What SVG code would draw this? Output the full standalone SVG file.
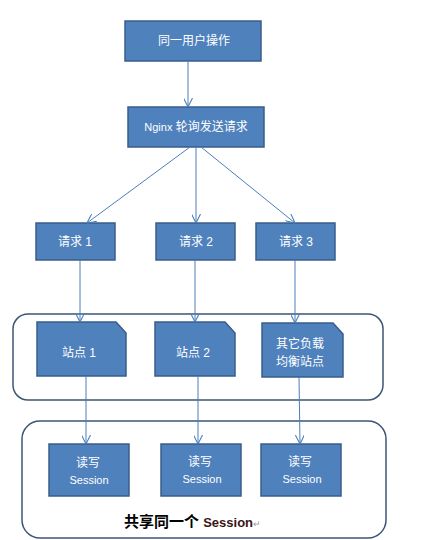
<svg xmlns="http://www.w3.org/2000/svg" width="436" height="540" viewBox="0 0 436 540">
<defs>
<marker id="arr" viewBox="0 0 10 10" refX="10" refY="5" markerWidth="9" markerHeight="9" markerUnits="userSpaceOnUse" orient="auto">
<path d="M0,0 L10,5 L0,10" fill="none" stroke="#4A7EBB" stroke-width="1.2"/>
</marker>
<style>
.box{fill:#4F81BD;stroke:#385D8A;stroke-width:1.5}
.frame{fill:#FFFFFF;stroke:#3C5675;stroke-width:1.5}
.t{fill:#FFFFFF;font-family:"Liberation Sans","Noto Sans CJK SC",sans-serif;font-size:12px;text-anchor:middle}
.s{font-size:11px}
.c{fill:none;stroke:#4A7EBB;stroke-width:1;marker-end:url(#arr)}
</style>
</defs>
<rect width="436" height="540" fill="#FFFFFF"/>
<g id="frame-sites"><rect class="frame" x="13" y="314" width="370" height="86" rx="15" ry="15"/></g>
<g id="frame-session"><rect class="frame" x="22" y="421" width="364" height="117" rx="18" ry="18"/>
<text x="124" y="527" font-family="Liberation Sans,'Noto Sans CJK SC',sans-serif" font-size="15" font-weight="bold" fill="#000000">共享同一个 <tspan fill="#3A1515" font-size="13">Session</tspan><tspan fill="#999999" font-size="9" font-weight="normal">↵</tspan></text></g>
<g id="user"><rect class="box" x="125" y="21" width="136" height="40"/><text class="t" x="194" y="45">同一用户操作</text></g>
<g id="nginx"><rect class="box" x="128" y="107" width="136" height="40"/><text class="t" x="196" y="131"><tspan class="s">Nginx</tspan> 轮询发送请求</text></g>
<g id="req1"><rect class="box" x="36" y="223" width="79" height="37"/><text class="t" x="75" y="246">请求 1</text></g>
<g id="req2"><rect class="box" x="156" y="223" width="79" height="37"/><text class="t" x="196" y="246">请求 2</text></g>
<g id="req3"><rect class="box" x="256" y="223" width="79" height="37"/><text class="t" x="296" y="246">请求 3</text></g>
<g id="site1"><path class="box" d="M37,322 H116 L126,333 V376 H37 Z"/><text class="t" x="79" y="357">站点 1</text></g>
<g id="site2"><path class="box" d="M155,322 H225 L235,333 V376 H155 Z"/><text class="t" x="193" y="357">站点 2</text></g>
<g id="site3"><path class="box" d="M262,323 H333 L343,334 V377 H262 Z"/><text class="t" x="300" y="348">其它负载</text><text class="t" x="300" y="366">均衡站点</text></g>
<g id="sess1"><rect class="box" x="49" y="444" width="80" height="52"/><text class="t" x="88" y="467">读写</text><text class="t s" x="89" y="484">Session</text></g>
<g id="sess2"><rect class="box" x="161" y="444" width="80" height="52"/><text class="t" x="200" y="466">读写</text><text class="t s" x="202" y="483">Session</text></g>
<g id="sess3"><rect class="box" x="261" y="444" width="80" height="52"/><text class="t" x="300" y="466">读写</text><text class="t s" x="302" y="483">Session</text></g>
<g id="connectors">
<line class="c" x1="188" y1="61" x2="188" y2="107"/>
<line class="c" x1="190" y1="147" x2="87" y2="223"/>
<line class="c" x1="196" y1="147" x2="196" y2="223"/>
<line class="c" x1="201" y1="147" x2="295" y2="223"/>
<line class="c" x1="80" y1="260" x2="80" y2="322"/>
<line class="c" x1="195" y1="260" x2="195" y2="322"/>
<line class="c" x1="295" y1="260" x2="295" y2="323"/>
<line class="c" x1="86" y1="376" x2="86" y2="444"/>
<line class="c" x1="198" y1="376" x2="198" y2="444"/>
<line class="c" x1="299" y1="377" x2="300" y2="444"/>
</g>
</svg>
